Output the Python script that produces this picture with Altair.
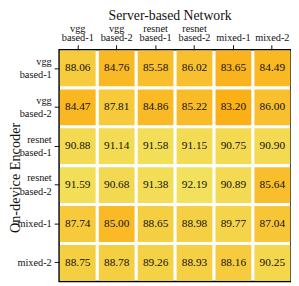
import altair as alt
import pandas as pd

servers = ["vgg based-1", "vgg based-2", "resnet based-1", "resnet based-2", "mixed-1", "mixed-2"]
encoders = ["vgg based-1", "vgg based-2", "resnet based-1", "resnet based-2", "mixed-1", "mixed-2"]

row_vgg1 = [88.06, 84.76, 85.58, 86.02, 83.65, 84.49]
row_vgg2 = [84.47, 87.81, 84.86, 85.22, 83.20, 86.00]
row_res1 = [90.88, 91.14, 91.58, 91.15, 90.75, 90.90]
row_res2 = [91.59, 90.68, 91.38, 92.19, 90.89, 85.64]
row_mix1 = [87.74, 85.00, 88.65, 88.98, 89.77, 87.04]
row_mix2 = [88.75, 88.78, 89.26, 88.93, 88.16, 90.25]
values = [row_vgg1, row_vgg2, row_res1, row_res2, row_mix1, row_mix2]

records = []
for i, e in enumerate(encoders):
    for j, s in enumerate(servers):
        records.append({"enc": e, "srv": s, "acc": values[i][j]})
df = pd.DataFrame(records)

FONT = "Liberation Serif"

xenc = alt.X(
    "srv:N", sort=servers,
    scale=alt.Scale(paddingInner=0.08, paddingOuter=0.02),
    axis=alt.Axis(
        orient="top", title="Server-based Network", labelAngle=0,
        labelExpr="indexof(datum.value, ' ') >= 0 ? split(datum.value, ' ') : ['', datum.value]",
        labelLineHeight=10, labelBaseline="alphabetic",
        labelFont=FONT, labelFontSize=10.5, labelColor="#111",
        tickColor="#111", tickSize=5, domain=False, labelPadding=14,
        titleFont=FONT, titleFontSize=14, titleFontWeight="normal", titleColor="#111",
        titleX=112.5, titleY=-31, titleBaseline="alphabetic",
    ),
)
yenc = alt.Y(
    "enc:N", sort=encoders,
    scale=alt.Scale(paddingInner=0.08, paddingOuter=0.02),
    axis=alt.Axis(
        title="On-device Encoder",
        labelExpr="split(datum.value, ' ')", labelLineHeight=13.5,
        labelBaseline="middle",
        labelOffset={"expr": "indexof(datum.value, ' ') >= 0 ? -6.75 : 0"},
        labelFont=FONT, labelFontSize=10.5, labelColor="#111",
        tickColor="#111", tickSize=5, domain=False, labelPadding=3,
        titleFont=FONT, titleFontSize=14.5, titleFontWeight="normal", titleColor="#111",
        titleX=-40.5, titleY=130, titleBaseline="alphabetic",
    ),
)

base = alt.Chart(df)
rect = base.mark_rect().encode(
    x=xenc, y=yenc,
    color=alt.Color("acc:Q", scale=alt.Scale(domain=[83.2, 92.19], range=["#fbb018", "#f2e15c"]), legend=None),
)
text = base.mark_text(font=FONT, fontSize=11.5, color="#111").encode(
    x=alt.X("srv:N", sort=servers), y=alt.Y("enc:N", sort=encoders),
    text=alt.Text("acc:Q", format=".2f"),
)

chart = (rect + text).properties(
    width=236, height=236,
    padding={"left": 52, "top": 40, "right": 0, "bottom": 0},
    autosize=alt.AutoSizeParams(type="none"),
).configure_view(stroke="black", strokeWidth=1.5)

chart.save("out.html", embed_options={"renderer": "svg", "actions": False})
